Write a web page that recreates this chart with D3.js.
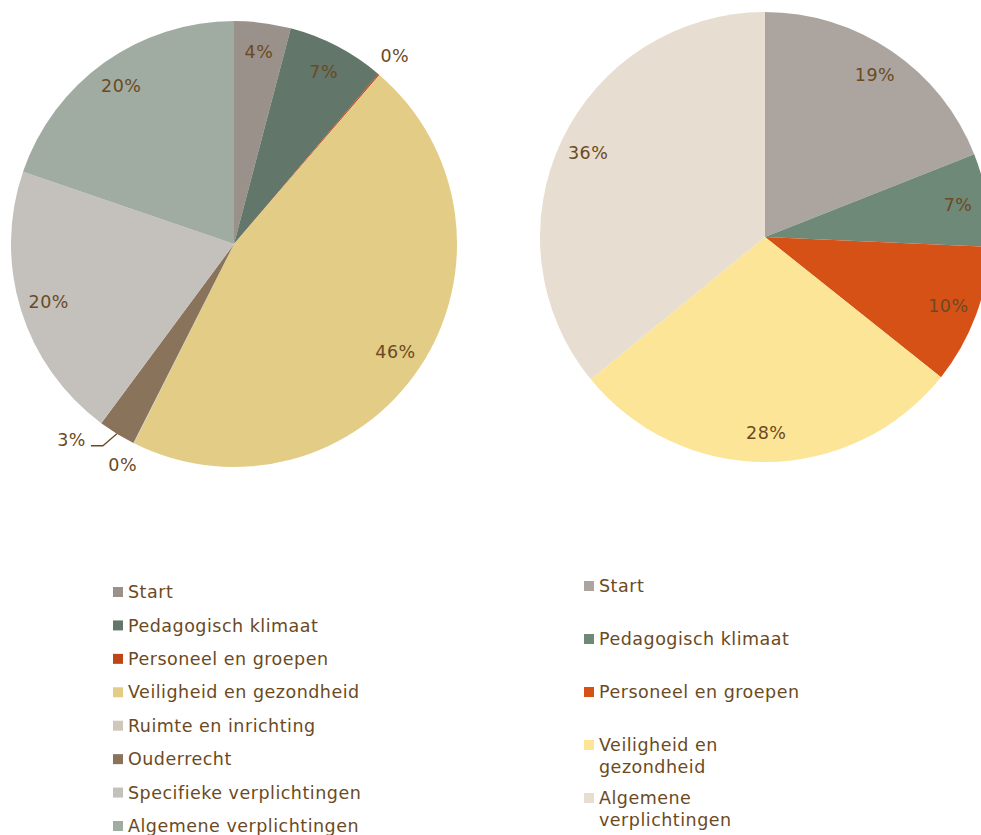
<!DOCTYPE html>
<html>
<head>
<meta charset="utf-8">
<script src="https://cdn.jsdelivr.net/npm/d3@7"></script>
<style>
  body { margin: 0; background: #fff; }
  text { font-family: Verdana, "DejaVu Sans", sans-serif; fill: #6b4a23; font-size: 17.5px; letter-spacing: 0.5px; }
</style>
</head>
<body>
<div id="chart"></div>
<script>
//---------------- data ----------------------
var leftCategories = ["Start", "Pedagogisch klimaat", "Personeel en groepen", "Veiligheid en gezondheid",
                      "Ruimte en inrichting", "Ouderrecht", "Specifieke verplichtingen", "Algemene verplichtingen"];
var leftValues = [4.1, 7.1, 0.1, 46.1, 0.05, 2.7, 20.1, 19.75];

var rightCategories = ["Start", "Pedagogisch klimaat", "Personeel en groepen", "Veiligheid en gezondheid",
                       "Algemene verplichtingen"];
var rightLegendLines = [["Start"], ["Pedagogisch klimaat"], ["Personeel en groepen"],
                        ["Veiligheid en", "gezondheid"], ["Algemene", "verplichtingen"]];
var rightValues = [19.0, 6.7, 10.0, 28.4, 35.9];

var leftColors = ["#9a918a", "#62766a", "#bf4517", "#e2cc86", "#d0c7bb", "#8a735b", "#c4c0bc", "#a0aba2"];
var rightColors = ["#aca59f", "#6f8978", "#d55116", "#fde597", "#e7ddd0"];

//---------------- layout ----------------------
var w = 981;
var h = 835;

var svg = d3.select("#chart").append("svg")
    .attr("width", w)
    .attr("height", h);

var pie = d3.pie().sort(null).value(function(d) { return d.value; });

var drawPie = function(cats, vals, colors, cx, cy, r) {
    var total = d3.sum(vals);
    var data = cats.map(function(c, i) { return { cat: c, value: vals[i], color: colors[i] }; });
    var arcs = pie(data);

    var arc = d3.arc().innerRadius(0).outerRadius(r);
    var labelArc = d3.arc().innerRadius(r * 0.87).outerRadius(r * 0.87);
    var outArc = d3.arc().innerRadius(r * 1.11).outerRadius(r * 1.11);
    var edgeArc = d3.arc().innerRadius(r).outerRadius(r);

    var g = svg.append("g").attr("transform", "translate(" + cx + "," + cy + ")");

    g.selectAll("path")
        .data(arcs)
        .enter()
        .append("path")
        .attr("d", arc)
        .attr("fill", function(d) { return d.data.color; });

    arcs.forEach(function(d) {
        var share = d.data.value / total * 100;
        var txt = Math.round(share) + "%";
        if (share < 1) {
            var p = outArc.centroid(d);
            g.append("text")
                .attr("x", p[0]).attr("y", p[1])
                .attr("dy", "0.35em")
                .style("text-anchor", "middle")
                .text(txt);
        } else if (share < 3.5) {
            // leader line label
            var a = edgeArc.centroid(d);
            var b = [a[0] - 14, a[1] + 12];
            var c = [b[0] - 12, b[1]];
            g.append("polyline")
                .attr("points", [a, b, c].map(function(q) { return q.join(","); }).join(" "))
                .attr("fill", "none")
                .attr("stroke", "#6b4a23")
                .attr("stroke-width", 1.3);
            g.append("text")
                .attr("x", c[0] - 5).attr("y", c[1] - 6)
                .attr("dy", "0.35em")
                .style("text-anchor", "end")
                .text(txt);
        } else {
            var p2 = labelArc.centroid(d);
            g.append("text")
                .attr("x", p2[0]).attr("y", p2[1])
                .attr("dy", "0.35em")
                .style("text-anchor", "middle")
                .text(txt);
        }
    });
};

drawPie(leftCategories, leftValues, leftColors, 234, 244, 223);
drawPie(rightCategories, rightValues, rightColors, 765, 237, 225);

//---------------- legends ----------------------
var leftLegendY = d3.scaleLinear().domain([0, leftCategories.length - 1]).range([592, 826]);

var leftLegend = svg.append("g");
leftCategories.forEach(function(c, i) {
    var y = leftLegendY(i);
    leftLegend.append("rect")
        .attr("x", 113).attr("y", y - 5)
        .attr("width", 10).attr("height", 10)
        .attr("fill", leftColors[i]);
    leftLegend.append("text")
        .attr("x", 128).attr("y", y)
        .attr("dy", "0.35em")
        .text(c);
});

var rightLegendY = d3.scaleLinear().domain([0, rightCategories.length - 1]).range([586, 798]);

var rightLegend = svg.append("g");
rightLegendLines.forEach(function(lines, i) {
    var y = rightLegendY(i);
    rightLegend.append("rect")
        .attr("x", 584).attr("y", y - 5)
        .attr("width", 10).attr("height", 10)
        .attr("fill", rightColors[i]);
    lines.forEach(function(line, j) {
        rightLegend.append("text")
            .attr("x", 599).attr("y", y + j * 22)
            .attr("dy", "0.35em")
            .text(line);
    });
});
</script>
</body>
</html>
